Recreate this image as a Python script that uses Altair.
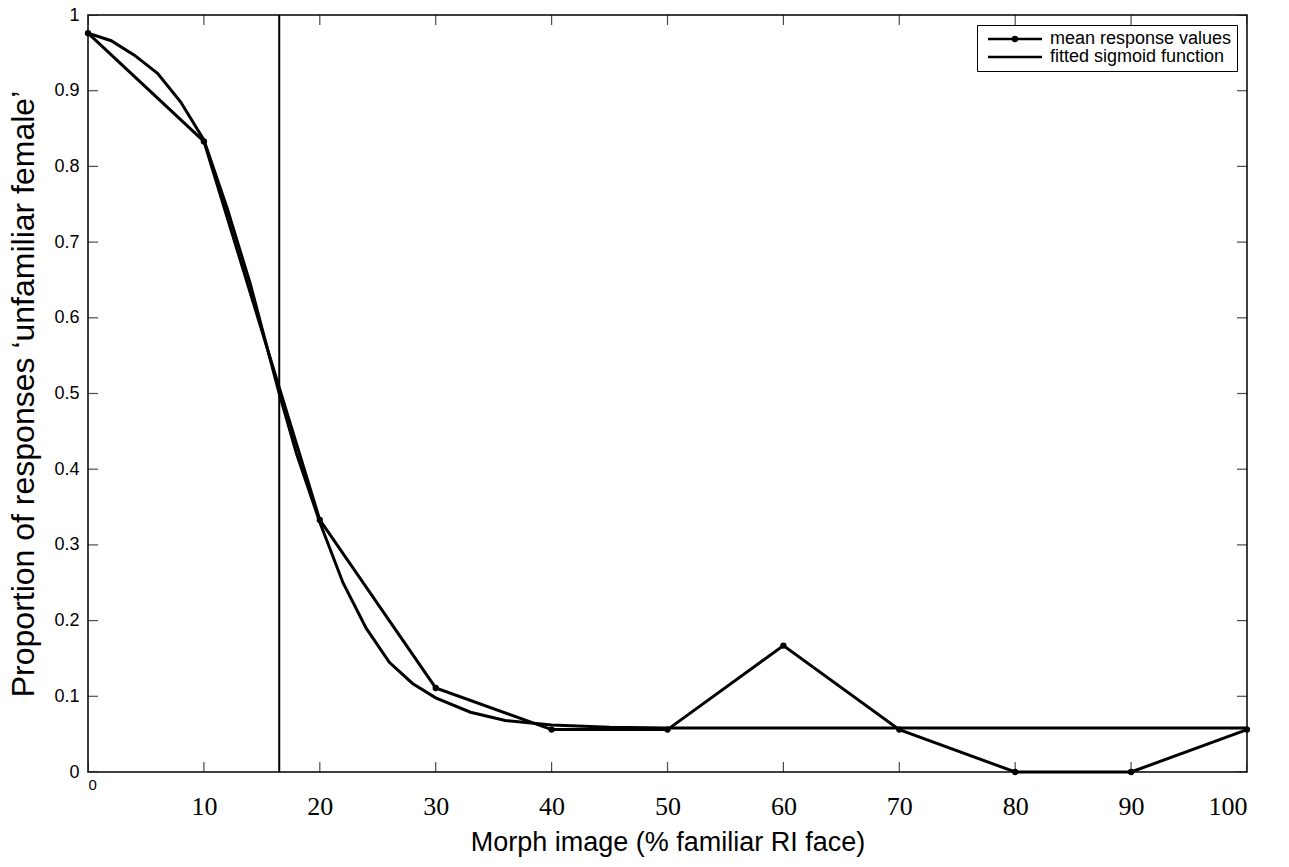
import altair as alt
import pandas as pd

# mean response values
morph_x = [0, 10, 20, 30, 40, 50, 60, 70, 80, 90, 100]
mean_y = [0.976, 0.833, 0.333, 0.111, 0.056, 0.056, 0.167, 0.056, 0.0, 0.0, 0.056]

# fitted sigmoid
sig_x = [0, 2, 4, 6, 8, 10, 12, 14, 16.5, 18, 20, 22, 24, 26, 28, 30, 33, 36, 40, 45, 50, 100]
sig_y = [0.976, 0.966, 0.947, 0.923, 0.885, 0.835, 0.745, 0.645, 0.5, 0.42, 0.33, 0.25,
         0.19, 0.145, 0.117, 0.098, 0.079, 0.068, 0.062, 0.059, 0.058, 0.058]

threshold_x = [16.5]

x_ticks = [0, 10, 20, 30, 40, 50, 60, 70, 80, 90, 100]
y_ticks = [0, 0.1, 0.2, 0.3, 0.4, 0.5, 0.6, 0.7, 0.8, 0.9, 1.0]

series_names = ["mean response values", "fitted sigmoid function"]

mean_df = pd.DataFrame({"x": morph_x, "y": mean_y, "series": series_names[0]})
sig_df = pd.DataFrame({"x": sig_x, "y": sig_y, "series": series_names[1]})
legend_df = pd.DataFrame({"x": [morph_x[0], morph_x[0]], "y": [mean_y[0], mean_y[0]],
                          "series": series_names})
xt_df = pd.DataFrame({"v": x_ticks})
yt_df = pd.DataFrame({"v": y_ticks})
thr_df = pd.DataFrame({"x": threshold_x})

SANS = "Liberation Sans"
SERIF = "Liberation Serif"

xscale = alt.Scale(domain=[0, 100], nice=False, zero=False)
yscale = alt.Scale(domain=[0, 1], nice=False, zero=False)

x_axis = alt.Axis(
    values=x_ticks, format="d", ticks=False, grid=False, domain=False,
    labelFont=alt.condition("datum.value == 0", alt.value(SANS), alt.value(SERIF)),
    labelFontSize=alt.condition("datum.value == 0", alt.value(15), alt.value(26)),
    labelPadding=alt.condition("datum.value == 0", alt.value(5), alt.value(21)),
    labelColor="black",
    title="Morph image (% familiar RI face)", titleFont=SANS, titleFontSize=27,
    titleFontWeight="normal", titleColor="black", titlePadding=10,
)
y_axis = alt.Axis(
    values=y_ticks, format=".1~f", ticks=False, grid=False, domain=False,
    labelFont=SANS, labelFontSize=18, labelColor="black", labelPadding=9,
    title="Proportion of responses \u2018unfamiliar female\u2019", titleFont=SANS,
    titleFontSize=32, titleFontWeight="normal", titleColor="black", titlePadding=13,
)

X = alt.X("x:Q", scale=xscale, axis=x_axis)
Y = alt.Y("y:Q", scale=yscale, axis=y_axis)

sig_line = alt.Chart(sig_df).mark_line(color="black", strokeWidth=3).encode(x=X, y=Y, order="x:Q")
mean_line = alt.Chart(mean_df).mark_line(color="black", strokeWidth=3).encode(x=X, y=Y, order="x:Q")
mean_pts = alt.Chart(mean_df).mark_circle(color="black", size=40, opacity=1).encode(x=X, y=Y)
thr = alt.Chart(thr_df).mark_rule(color="black", strokeWidth=2).encode(x=alt.X("x:Q", scale=xscale))

# custom legend symbols (unit size 4 px -> line of 54 px)
dot_line = "M-6.75,0H6.75M-0.5,0A0.5,0.5,0,1,0,0.5,0A0.5,0.5,0,1,0,-0.5,0Z"
plain_line = "M-6.75,0H6.75"
legend_layer = alt.Chart(legend_df).mark_point(
    opacity=0, filled=False, color="black", strokeWidth=2.5
).encode(
    x=X, y=Y,
    shape=alt.Shape("series:N",
                    scale=alt.Scale(domain=series_names, range=[dot_line, plain_line]),
                    legend=alt.Legend(
                        title=None, orient="top-right", offset=10,
                        strokeColor="black", fillColor="white", padding=5,
                        labelFont=SANS, labelFontSize=18, labelColor="black",
                        symbolSize=64, symbolStrokeWidth=2.5, symbolStrokeColor="black",
                        symbolFillColor="black", symbolOpacity=1, rowPadding=0,
                        symbolOffset=24, labelOffset=26, labelLimit=400,
                    )),
)

# inward ticks (MATLAB style)
tick_kw = dict(color="black", thickness=1.2, size=20, clip=True)
xt_bottom = alt.Chart(xt_df).mark_tick(orient="vertical", **tick_kw).encode(
    x=alt.X("v:Q", scale=xscale), y=alt.datum(0, scale=yscale))
xt_top = alt.Chart(xt_df).mark_tick(orient="vertical", **tick_kw).encode(
    x=alt.X("v:Q", scale=xscale), y=alt.datum(1, scale=yscale))
yt_left = alt.Chart(yt_df).mark_tick(orient="horizontal", **tick_kw).encode(
    y=alt.Y("v:Q", scale=yscale), x=alt.datum(0, scale=xscale))
yt_right = alt.Chart(yt_df).mark_tick(orient="horizontal", **tick_kw).encode(
    y=alt.Y("v:Q", scale=yscale), x=alt.datum(100, scale=xscale))

chart = alt.layer(
    sig_line, mean_line, mean_pts, thr, xt_bottom, xt_top, yt_left, yt_right, legend_layer
).properties(
    width=1159, height=757,
    autosize=alt.AutoSizeParams(type="none"),
    padding={"left": 88, "top": 15, "right": 42, "bottom": 95},
    background="white",
).configure_view(
    stroke="black", strokeWidth=1.5, fill="white"
)

chart.save("out.html", embed_options={"renderer": "svg", "actions": False})
